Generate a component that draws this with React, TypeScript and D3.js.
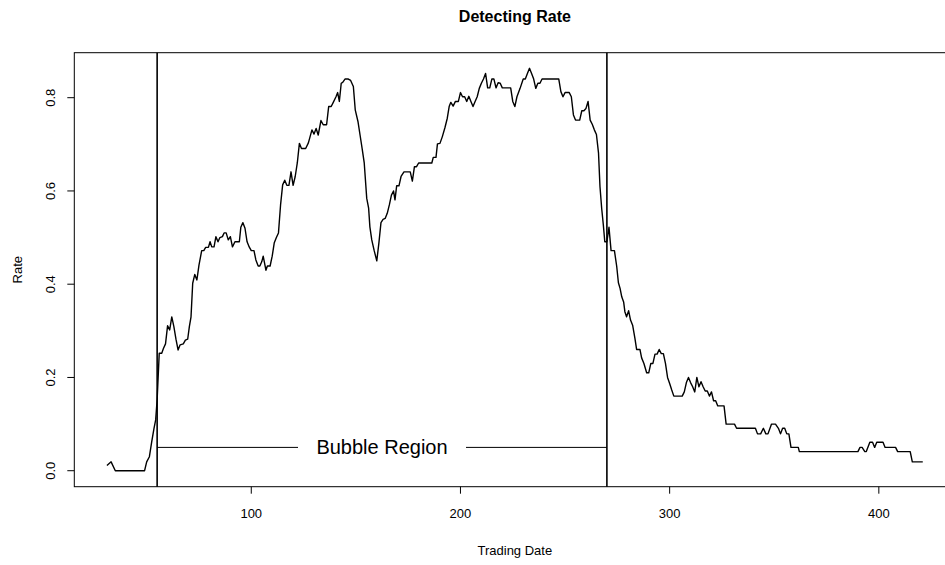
import React from "react";
import * as d3 from "d3";

// Share of detections per trading date: [trading date, rate]
const rateSeries: [number, number][] = [
  [31, 0.011], [33, 0.019], [35, 0], [49, 0], [50, 0.019], [51.3, 0.03], [52.4, 0.062],
  [53.5, 0.091], [54.3, 0.109], [55, 0.152], [56, 0.252], [57.2, 0.252], [58, 0.262],
  [59, 0.272], [60, 0.311], [61, 0.302], [62, 0.33], [63, 0.309], [64, 0.282], [65, 0.259],
  [66, 0.27], [67.5, 0.272], [68.5, 0.28], [69.6, 0.282], [70.4, 0.309], [71.2, 0.33],
  [72, 0.402], [73, 0.421], [74, 0.409], [75, 0.441], [76.3, 0.472], [77.3, 0.472],
  [78.2, 0.479], [79.5, 0.479], [80.3, 0.491], [81.1, 0.48], [82.2, 0.48], [83.1, 0.502],
  [84.1, 0.491], [85, 0.5], [86.2, 0.502], [87, 0.51], [88, 0.51], [89, 0.495], [90, 0.502],
  [91, 0.48], [92.2, 0.491], [94.3, 0.491], [95, 0.522], [96, 0.532], [97, 0.52], [98, 0.491],
  [99, 0.48], [100, 0.472], [101.3, 0.472], [102.2, 0.452], [103.3, 0.439], [104.1, 0.439],
  [105, 0.448], [105.7, 0.46], [107, 0.43], [107.7, 0.439], [109, 0.439], [110, 0.46],
  [111, 0.489], [112, 0.5], [113, 0.51], [114, 0.57], [115, 0.613], [116, 0.623], [117, 0.612],
  [118, 0.612], [119, 0.641], [120, 0.612], [121, 0.631], [122, 0.66], [123, 0.702],
  [124, 0.691], [126, 0.691], [127.3, 0.703], [129, 0.731], [130, 0.722], [131, 0.734],
  [132, 0.72], [133.3, 0.751], [134.4, 0.742], [136, 0.742], [137, 0.781], [138.2, 0.781],
  [139.2, 0.79], [140.5, 0.802], [141.3, 0.811], [142.1, 0.792], [143, 0.831], [143.7, 0.833],
  [144.8, 0.84], [146.4, 0.84], [147.5, 0.837], [148.8, 0.824], [149.7, 0.774], [151, 0.749],
  [152, 0.72], [153, 0.691], [154, 0.66], [155.2, 0.584], [156.1, 0.563], [156.7, 0.523],
  [157.6, 0.495], [158.7, 0.473], [160, 0.45], [161, 0.488], [162, 0.532], [163, 0.539],
  [164, 0.541], [165, 0.552], [166, 0.57], [167, 0.591], [168, 0.6], [168.7, 0.581],
  [169.5, 0.611], [170.6, 0.611], [171.6, 0.631], [173, 0.641], [176, 0.641], [177, 0.621],
  [178, 0.652], [179, 0.652], [180, 0.66], [186.3, 0.66], [187, 0.672], [188.3, 0.672],
  [189, 0.701], [190.2, 0.702], [191.3, 0.716], [192.6, 0.736], [193.7, 0.756], [194.6, 0.781],
  [195.4, 0.79], [196.5, 0.782], [197.6, 0.792], [199, 0.792], [200, 0.811], [201, 0.802],
  [202, 0.802], [203, 0.792], [204, 0.803], [205, 0.792], [206, 0.781], [207, 0.792],
  [208, 0.802], [209, 0.82], [210, 0.831], [211, 0.84], [212, 0.852], [213, 0.821],
  [214, 0.821], [215, 0.84], [216, 0.84], [217, 0.821], [218, 0.832], [219, 0.831],
  [220, 0.821], [224, 0.821], [225, 0.792], [226, 0.781], [227, 0.802], [228.5, 0.82],
  [230, 0.84], [231, 0.84], [232, 0.852], [233, 0.863], [234, 0.852], [235, 0.84], [236, 0.82],
  [237, 0.831], [238, 0.831], [239, 0.84], [247, 0.84], [248, 0.813], [249, 0.802],
  [250, 0.811], [252, 0.811], [253, 0.802], [254, 0.763], [255, 0.752], [257, 0.752],
  [258, 0.772], [259, 0.772], [260, 0.777], [261, 0.792], [262, 0.752], [263, 0.743],
  [264, 0.731], [265, 0.721], [266, 0.681], [266.7, 0.609], [267.5, 0.563], [268.3, 0.527],
  [269, 0.491], [270, 0.491], [271, 0.522], [272, 0.472], [273.6, 0.472], [274.7, 0.438],
  [275.5, 0.403], [276.3, 0.391], [277.1, 0.373], [278, 0.362], [278.6, 0.341], [279.4, 0.33],
  [280.4, 0.343], [281.3, 0.323], [282.3, 0.312], [283.4, 0.284], [284.2, 0.26], [285.8, 0.26],
  [286.6, 0.242], [287.7, 0.23], [289, 0.21], [290, 0.21], [291, 0.23], [292, 0.23],
  [293, 0.25], [294, 0.25], [295, 0.26], [296, 0.251], [297, 0.251], [298, 0.23], [299, 0.2],
  [300, 0.187], [301, 0.173], [302, 0.16], [306, 0.16], [307, 0.169], [308, 0.189], [309, 0.2],
  [310, 0.189], [311, 0.18], [312, 0.169], [313, 0.2], [314, 0.18], [315, 0.191], [316, 0.18],
  [317, 0.171], [318, 0.171], [319, 0.16], [320, 0.169], [321, 0.15], [322, 0.15],
  [323, 0.139], [326, 0.139], [327, 0.1], [331, 0.1], [332, 0.091], [341, 0.091],
  [342, 0.079], [343.5, 0.079], [344.8, 0.091], [346, 0.079], [347, 0.079], [348.7, 0.1],
  [350.6, 0.1], [352, 0.091], [353, 0.079], [354, 0.091], [355, 0.091], [356, 0.079],
  [357, 0.079], [358, 0.05], [361.5, 0.05], [362, 0.041], [390, 0.041], [391, 0.05],
  [392, 0.05], [393.3, 0.041], [394, 0.041], [395.7, 0.061], [397, 0.061], [398, 0.05],
  [399, 0.061], [402, 0.061], [403, 0.05], [408, 0.05], [409, 0.041], [415, 0.041],
  [416, 0.019], [421, 0.019],
];

const xTicks = [100, 200, 300, 400];
const yTicks = [0, 0.2, 0.4, 0.6, 0.8];
const bubbleBounds = [55, 270];
const bubbleLevel = 0.05;
const bubbleLabel = "Bubble Region";

const W = 945;
const H = 565;
const plot = { left: 74.3, right: 955.4, top: 52.7, bottom: 486.7 };
const font = "'Liberation Sans', Arial, Helvetica, sans-serif";

export default function App() {
  const x = d3.scaleLinear().domain([15.4, 436.6]).range([plot.left, plot.right]);
  const y = d3.scaleLinear().domain([-0.0343, 0.8965]).range([plot.bottom, plot.top]);

  const line = d3
    .line<[number, number]>()
    .x((d) => x(d[0]))
    .y((d) => y(d[1]));

  const midX = x((bubbleBounds[0] + bubbleBounds[1]) / 2);
  const gap = 84; // half-width of the gap left around the label
  const by = y(bubbleLevel);

  return (
    <svg
      width={W}
      height={H}
      style={{ position: "absolute", left: 0, top: 0, background: "#fff" }}
      fontFamily={font}
    >
      <rect x={0} y={0} width={W} height={H} fill="#fff" />
      <text x={(plot.left + plot.right) / 2} y={22} textAnchor="middle" fontSize={16} fontWeight="bold">
        Detecting Rate
      </text>

      {/* plot frame */}
      <rect
        x={plot.left}
        y={plot.top}
        width={plot.right - plot.left}
        height={plot.bottom - plot.top}
        fill="none"
        stroke="#000"
        strokeWidth={1}
      />

      {/* x axis */}
      {xTicks.map((t) => (
        <g key={t}>
          <line x1={x(t)} x2={x(t)} y1={plot.bottom} y2={plot.bottom + 7} stroke="#000" />
          <text x={x(t)} y={518} textAnchor="middle" fontSize={13}>
            {t}
          </text>
        </g>
      ))}
      <text x={(plot.left + plot.right) / 2} y={555} textAnchor="middle" fontSize={13}>
        Trading Date
      </text>

      {/* y axis */}
      {yTicks.map((t) => (
        <g key={t}>
          <line x1={plot.left - 7} x2={plot.left} y1={y(t)} y2={y(t)} stroke="#000" />
          <text
            transform={`translate(55,${y(t)}) rotate(-90)`}
            textAnchor="middle"
            fontSize={13}
          >
            {t.toFixed(1)}
          </text>
        </g>
      ))}
      <text
        transform={`translate(22,${(plot.top + plot.bottom) / 2}) rotate(-90)`}
        textAnchor="middle"
        fontSize={13}
      >
        Rate
      </text>

      {/* bubble region boundaries */}
      {bubbleBounds.map((b) => (
        <line key={b} x1={x(b)} x2={x(b)} y1={plot.top} y2={plot.bottom} stroke="#000" strokeWidth={1.6} />
      ))}
      <line x1={x(bubbleBounds[0])} x2={midX - gap} y1={by} y2={by} stroke="#000" strokeWidth={1} />
      <line x1={midX + gap} x2={x(bubbleBounds[1])} y1={by} y2={by} stroke="#000" strokeWidth={1} />
      <text x={midX} y={by + 7} textAnchor="middle" fontSize={20}>
        {bubbleLabel}
      </text>

      {/* detecting rate series */}
      <path d={line(rateSeries) ?? ""} fill="none" stroke="#000" strokeWidth={1.4} strokeLinejoin="round" />
    </svg>
  );
}
